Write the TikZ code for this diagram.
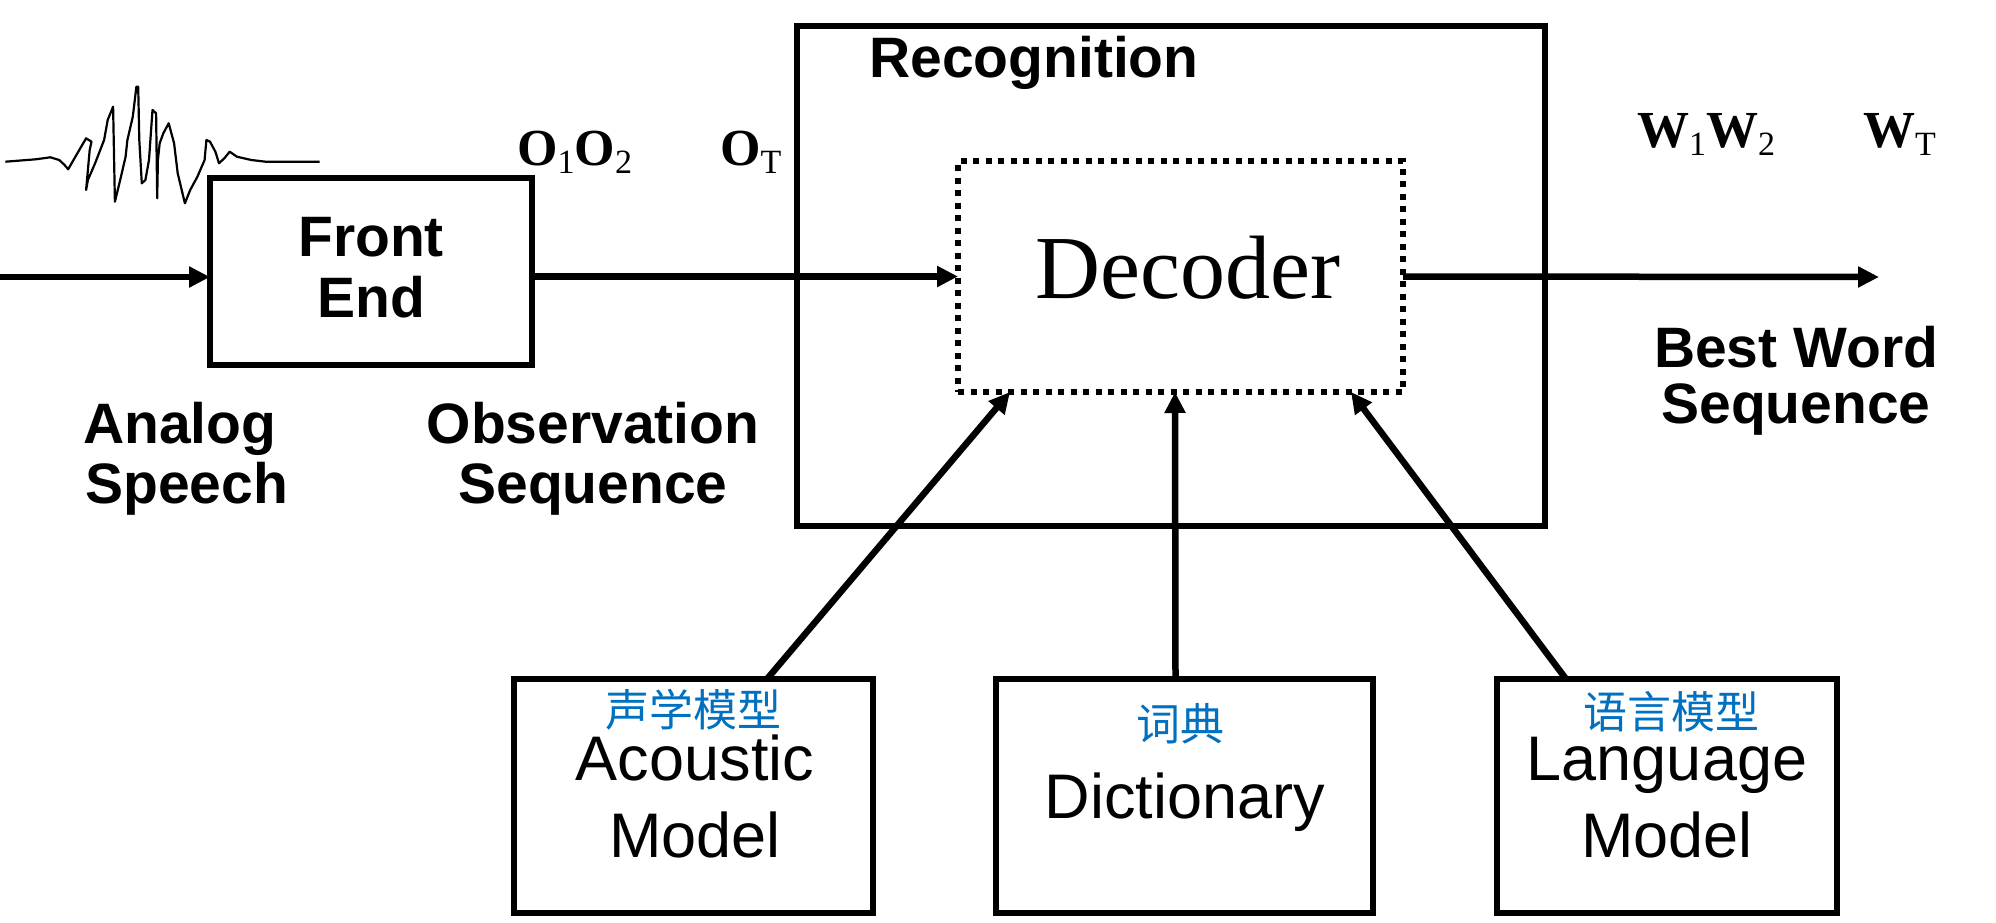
\documentclass[tikz,border=0pt]{standalone}
\usepackage{fontspec}
\newfontfamily\arialf{Liberation Sans}
\newfontfamily\timesf{Liberation Serif}
\newfontfamily\cjk{Noto Sans CJK SC}
\usetikzlibrary{arrows.meta,calc}
\definecolor{cnblue}{RGB}{0,112,192}
\newcommand\symsub[2]{{\timesf\bfseries\fontsize{52}{52}\selectfont #1}{\timesf\fontsize{34}{34}\selectfont\raisebox{-8pt}{#2}}}
\begin{document}
\begin{tikzpicture}[x=1pt,y=-1pt,
  boxs/.style={draw, line width=6.5pt, inner sep=0pt, outer sep=0pt},
  dotbox/.style={draw, line width=6pt, dash pattern=on 6pt off 6.5pt, inner sep=0pt, outer sep=0pt},
  conn/.style={line width=6.5pt, -{Triangle[length=21pt,width=20pt]}},
  wave/.style={line width=2.2pt, line join=round},
  bold/.style={font=\arialf\bfseries\fontsize{57}{57}\selectfont, inner sep=0pt, anchor=base},
  plain/.style={font=\arialf\fontsize{63}{63}\selectfont, inner sep=0pt, anchor=base},
  cn/.style={font=\cjk\fontsize{44}{44}\selectfont, text=cnblue, inner sep=0pt, anchor=base},
  sym/.style={inner sep=0pt, anchor=base west}]
\useasboundingbox (0,0) rectangle (1996,923);
\fill[white] (0,0) rectangle (1996,923);

% boxes
\node[boxs, minimum width=748pt, minimum height=500pt] (rec) at (1171,276) {};
\node[boxs, minimum width=322pt, minimum height=187pt] (fe) at (371,271.5) {};
\node[dotbox, minimum width=445pt, minimum height=231pt] (dec) at (1180.5,276.5) {};
\node[boxs, minimum width=359pt, minimum height=234pt] (am) at (693.5,796) {};
\node[boxs, minimum width=377pt, minimum height=234pt] (dict) at (1184.5,796) {};
\node[boxs, minimum width=340pt, minimum height=234pt] (lm) at (1667,796) {};

% texts
\node[bold] (t-front) at (371,256) {Front};
\node[bold] (t-end) at (371,317) {End};
\node[bold, anchor=base west] (t-analog) at (83,443) {Analog};
\node[bold, anchor=base west] (t-speech) at (85,503) {Speech};
\node[bold] (t-obs) at (593,443) {Observation};
\node[bold] (t-seq) at (593,503) {Sequence};
\node[bold, anchor=base west] (t-rec) at (869,78) {Recognition};
\node[font=\timesf\fontsize{90}{90}\selectfont, inner sep=0pt, anchor=base] (t-dec) at (1188,298) {Decoder};
\node[bold] (t-best) at (1796,367) {Best Word};
\node[bold] (t-bseq) at (1796,423) {Sequence};

\node[sym] (o12) at (517,165) {\symsub{O}{1}\symsub{O}{2}};
\node[sym] (ot) at (720,165) {\symsub{O}{T}};
\node[sym] (w12) at (1637,147) {\symsub{W}{1}\symsub{W}{2}};
\node[sym] (wt) at (1863,147) {\symsub{W}{T}};

\node[cn] (c-am) at (693.5,726) {声学模型};
\node[plain] (t-ac) at (695,780) {Acoustic};
\node[plain] (t-am) at (695,857) {Model};
\node[cn] (c-dict) at (1180,740) {词典};
\node[plain] (t-dict) at (1185,818) {Dictionary};
\node[cn] (c-lm) at (1671,728) {语言模型};
\node[plain] (t-lang) at (1667,780) {Language};
\node[plain] (t-lm) at (1667,857) {Model};

% waveform
\draw[wave] (5.4,161.7) -- (35.9,159.3) -- (50.3,157.3) -- (59.2,160) -- (64.6,165) -- (68.2,169.3)
  -- (75.4,156.7) -- (86.1,138.3) -- (91.5,141.7) -- (89.7,150) -- (86.1,190) -- (87.9,180)
  -- (95.1,163.3) -- (104.1,140) -- (107.7,120) -- (113.1,106.7) -- (114.9,201.7) -- (120.2,180)
  -- (125.6,156.7) -- (127.4,140) -- (132.8,116.7) -- (136.4,86.7) -- (138.2,86.7) -- (139.3,140)
  -- (141.8,183.3) -- (145.4,180) -- (149,160) -- (152.5,110) -- (156.1,113.3) -- (157.2,198.3)
  -- (157.9,160) -- (159.7,143.3) -- (163.3,133.3) -- (168.7,123.3) -- (174.1,143.3) -- (177.7,173.3)
  -- (184.9,203.3) -- (190.2,190) -- (197.4,176.7) -- (204.6,160) -- (206.4,140) -- (210,141.7)
  -- (215.4,151.7) -- (219,163.3) -- (224.3,158.3) -- (229.7,151.7) -- (236.9,156.7) -- (251.3,160)
  -- (265.6,161.7) -- (319.5,161.7);

% connectors
\coordinate (in) at (0,277);
\coordinate (out) at (1879,277);
\draw[conn] (in) -- (in -| fe.west);
\draw[conn] (fe.east |- dec.west) -- (dec.west);
\draw[conn] (dec.east) -- (out);
\draw[conn] ([xshift=73.5pt]am.north) -- ([xshift=-170.5pt]dec.south);
\draw[conn] ([xshift=-9pt]dict.north) -- ([xshift=-5.5pt]dec.south);
\draw[conn] ([xshift=-101pt]lm.north) -- ([xshift=170.5pt]dec.south);
\end{tikzpicture}
\end{document}
